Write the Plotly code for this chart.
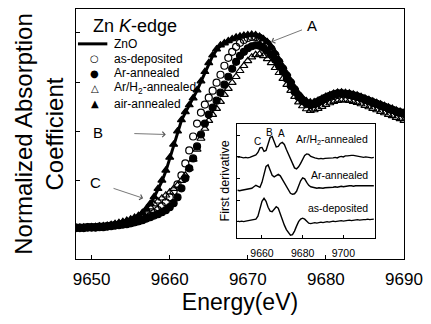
import numpy as np
import plotly.graph_objects as go

# ---------------- main panel data (Zn K-edge XANES) ----------------
energy = [9648 + 0.5 * i for i in range(85)]  # 9648 ... 9690 eV

zno = [0.010,0.010,0.010,0.010,0.013,0.013,0.015,0.015,0.018,0.023,
       0.028,0.033,0.038,0.043,0.050,0.058,0.065,0.080,0.100,0.125,
       0.160,0.200,0.240,0.290,0.355,0.420,0.490,0.545,0.585,0.620,
       0.655,0.695,0.740,0.785,0.830,0.870,0.900,0.920,0.930,0.940,
       0.950,0.958,0.963,0.965,0.970,0.973,0.970,0.963,0.950,0.935,
       0.910,0.880,0.845,0.810,0.775,0.740,0.705,0.675,0.653,0.638,
       0.633,0.635,0.645,0.655,0.665,0.673,0.680,0.685,0.685,0.683,
       0.680,0.675,0.670,0.663,0.655,0.648,0.640,0.633,0.625,0.618,
       0.610,0.603,0.595,0.590,0.585]

as_deposited = [0.008,0.008,0.008,0.010,0.010,0.010,0.013,0.013,0.015,0.018,
                0.020,0.023,0.025,0.028,0.030,0.035,0.040,0.048,0.055,0.065,
                0.080,0.095,0.115,0.135,0.160,0.190,0.225,0.270,0.330,0.395,
                0.465,0.530,0.585,0.625,0.660,0.695,0.735,0.775,0.820,0.860,
                0.890,0.915,0.935,0.950,0.960,0.965,0.965,0.960,0.945,0.930,
                0.905,0.875,0.840,0.805,0.770,0.735,0.700,0.670,0.648,0.633,
                0.628,0.630,0.640,0.650,0.660,0.668,0.675,0.680,0.680,0.678,
                0.675,0.670,0.665,0.658,0.650,0.643,0.635,0.628,0.620,0.613,
                0.605,0.598,0.590,0.585,0.580]

ar_annealed = [0.005,0.005,0.005,0.008,0.008,0.008,0.010,0.010,0.013,0.015,
               0.018,0.020,0.023,0.025,0.030,0.035,0.040,0.045,0.053,0.060,
               0.068,0.075,0.085,0.095,0.110,0.130,0.160,0.205,0.255,0.305,
               0.355,0.415,0.475,0.530,0.575,0.610,0.645,0.685,0.725,0.765,
               0.805,0.840,0.870,0.890,0.908,0.918,0.923,0.920,0.910,0.895,
               0.875,0.850,0.820,0.790,0.755,0.720,0.690,0.663,0.643,0.630,
               0.625,0.628,0.638,0.648,0.658,0.668,0.675,0.680,0.681,0.679,
               0.676,0.672,0.666,0.659,0.652,0.644,0.637,0.629,0.621,0.614,
               0.606,0.599,0.591,0.586,0.581]

arh2_annealed = [0.003,0.003,0.005,0.005,0.005,0.008,0.008,0.010,0.013,0.015,
                 0.020,0.025,0.030,0.038,0.045,0.055,0.065,0.080,0.095,0.110,
                 0.125,0.140,0.155,0.170,0.185,0.203,0.220,0.243,0.270,0.305,
                 0.350,0.400,0.455,0.505,0.545,0.575,0.605,0.640,0.675,0.705,
                 0.735,0.765,0.795,0.820,0.845,0.863,0.875,0.878,0.870,0.855,
                 0.835,0.810,0.785,0.755,0.725,0.695,0.665,0.638,0.618,0.603,
                 0.595,0.598,0.605,0.615,0.625,0.633,0.640,0.645,0.648,0.648,
                 0.645,0.640,0.635,0.628,0.620,0.613,0.605,0.598,0.590,0.583,
                 0.575,0.568,0.560,0.553,0.545]

air_annealed = [0.008,0.008,0.009,0.010,0.011,0.012,0.014,0.016,0.018,0.022,
                0.027,0.032,0.037,0.043,0.050,0.058,0.067,0.082,0.102,0.128,
                0.162,0.203,0.245,0.295,0.360,0.425,0.492,0.548,0.588,0.623,
                0.658,0.698,0.743,0.790,0.835,0.873,0.903,0.923,0.934,0.945,
                0.955,0.963,0.968,0.972,0.975,0.977,0.975,0.967,0.955,0.940,
                0.915,0.885,0.850,0.815,0.780,0.745,0.710,0.680,0.658,0.643,
                0.637,0.638,0.646,0.656,0.666,0.674,0.681,0.686,0.687,0.685,
                0.682,0.677,0.672,0.665,0.657,0.650,0.642,0.635,0.627,0.620,
                0.612,0.605,0.597,0.591,0.586]

main_xticks = [9650, 9660, 9670, 9680, 9690]

# ---------------- inset data (first derivative, offset) ----------------
energy_inset = list(range(9648, 9716))  # 68 points

deriv_arh2 = [8.1,8.15,8.1,8.05,8.1,8.05,8.1,8.2,8.25,8.35,
              8.6,9.05,9.1,8.7,8.8,9.5,10.1,10.2,9.7,9.15,
              9.2,9.5,9.6,9.4,8.9,8.4,7.9,7.4,7.05,6.95,
              7.15,7.5,7.9,8.3,8.45,8.4,8.2,8.1,8.05,8.0,
              7.95,8.0,7.95,8.0,8.0,8.05,8.0,8.05,8.1,8.05,
              8.15,8.2,8.15,8.25,8.25,8.3,8.3,8.3,8.25,8.2,
              8.2,8.15,8.1,8.15,8.1,8.1,8.05,8.1]

deriv_ar = [4.8,4.75,4.8,4.85,4.9,4.9,4.95,5.0,5.15,5.3,
            5.2,5.1,5.6,6.5,7.2,7.35,6.8,6.3,6.15,6.3,
            6.4,6.25,5.9,5.5,5.1,4.75,4.5,4.4,4.45,4.7,
            5.2,5.75,6.05,5.95,5.6,5.3,5.15,5.1,5.05,5.0,
            5.05,5.0,5.0,5.05,5.05,5.1,5.05,5.1,5.15,5.1,
            5.15,5.2,5.15,5.2,5.2,5.25,5.25,5.2,5.25,5.25,
            5.3,5.25,5.3,5.3,5.25,5.3,5.3,5.25]

deriv_asdep = [1.7,1.65,1.7,1.65,1.7,1.75,1.75,1.8,1.85,1.9,
               2.2,2.9,3.7,4.0,3.7,3.1,2.7,2.65,2.95,3.15,
               3.0,2.4,1.8,1.3,0.85,0.5,0.3,0.35,0.7,1.2,
               1.65,1.9,2.0,1.9,1.65,1.5,1.45,1.5,1.55,1.5,
               1.55,1.6,1.55,1.6,1.65,1.6,1.65,1.7,1.65,1.7,
               1.7,1.75,1.7,1.75,1.75,1.8,1.75,1.8,1.8,1.85,
               1.8,1.85,1.85,1.85,1.9,1.85,1.9,1.9]

inset_xticks = [9660, 9680, 9700]

FONT = "Liberation Sans, Arial, sans-serif"

fig = go.Figure()

mk = dict(size=7, color="black", line=dict(color="black", width=1.2))
fig.add_trace(go.Scatter(x=energy, y=arh2_annealed, mode="markers", name="Ar/H2-annealed",
                         marker=dict(symbol="triangle-up-open", **mk)))
fig.add_trace(go.Scatter(x=energy, y=as_deposited, mode="markers", name="as-deposited",
                         marker=dict(symbol="circle-open", **mk)))
fig.add_trace(go.Scatter(x=energy, y=ar_annealed, mode="markers", name="Ar-annealed",
                         marker=dict(symbol="circle", **mk)))
fig.add_trace(go.Scatter(x=energy, y=air_annealed, mode="markers", name="air-annealed",
                         marker=dict(symbol="triangle-up", **mk)))
fig.add_trace(go.Scatter(x=energy, y=zno, mode="lines", name="ZnO",
                         line=dict(color="black", width=3)))

for ys in (deriv_arh2, deriv_ar, deriv_asdep):
    fig.add_trace(go.Scatter(x=energy_inset, y=ys, mode="lines", xaxis="x2", yaxis="y2",
                             line=dict(color="black", width=1.4), showlegend=False))

# geometry helpers (plot area: x 76..411, y 8..259 px)
def px(xp):
    return (xp - 76) / 335.0

def py(yp):
    return (259 - yp) / 251.0

annotations = []
annotations.append(dict(text="Zn <i>K</i>-edge", x=px(91), y=py(25), xref="paper", yref="paper",
                        showarrow=False, xanchor="left", yanchor="middle",
                        font=dict(size=18, color="black", family=FONT)))

# custom legend
legend_rows = [("ZnO", None, 43), ("as-deposited", "○", 58), ("Ar-annealed", "●", 72.5),
               ("Ar/H<sub>2</sub>-annealed", "△", 87.5), ("air-annealed", "▲", 103)]
shapes = []
for label, glyph, yy in legend_rows:
    annotations.append(dict(text=label, x=px(113), y=py(yy), xref="paper", yref="paper",
                            showarrow=False, xanchor="left", yanchor="middle",
                            font=dict(size=12, color="black", family=FONT)))
    if glyph is None:
        shapes.append(dict(type="line", xref="paper", yref="paper", x0=px(78), x1=px(108),
                           y0=py(yy), y1=py(yy), line=dict(color="black", width=3)))
    else:
        annotations.append(dict(text=glyph, x=px(95), y=py(yy), xref="paper", yref="paper",
                                showarrow=False, xanchor="center", yanchor="middle",
                                font=dict(size=10, color="black", family="DejaVu Sans")))

# arrows: letter is the annotation text at the tail, arrow points to the feature
arrow_style = dict(showarrow=True, arrowhead=4, arrowsize=1.3, arrowwidth=0.8,
                   arrowcolor="#555", xref="x", yref="y", axref="pixel", ayref="pixel",
                   font=dict(size=15, color="black", family=FONT))
annotations.append(dict(text="A", x=9673.0, y=0.94, ax=41, ay=-16, startstandoff=4, **arrow_style))
annotations.append(dict(text="B", x=9659.5, y=0.475, ax=-68, ay=-2, startstandoff=30, **arrow_style))
annotations.append(dict(text="C", x=9656.6, y=0.155, ax=-48, ay=-16, startstandoff=12, **arrow_style))

# inset texts
for txt, yy in (("Ar/H<sub>2</sub>-annealed", 9.8), ("Ar-annealed", 6.3), ("as-deposited", 3.0)):
    annotations.append(dict(text=txt, x=9713, y=yy, xref="x2", yref="y2", showarrow=False,
                            xanchor="right", yanchor="middle",
                            font=dict(size=10.5, color="black", family=FONT)))
for letter, xx, yy in (("C", 9657.6, 9.7), ("B", 9663.8, 10.6), ("A", 9669.6, 10.5)):
    annotations.append(dict(text=letter, x=xx, y=yy, xref="x2", yref="y2", showarrow=False,
                            xanchor="center", yanchor="middle",
                            font=dict(size=10, color="black", family=FONT)))

fig.update_layout(
    width=431, height=324,
    margin=dict(l=76, r=20, t=8, b=65),
    paper_bgcolor="white", plot_bgcolor="white",
    showlegend=False,
    font=dict(family=FONT, color="black"),
    xaxis=dict(range=[9648, 9690], tickvals=main_xticks, ticks="inside", ticklen=4,
               tickcolor="black", showline=True, linecolor="black", linewidth=1, mirror=True,
               showgrid=False, zeroline=False, ticklabelstandoff=5,
               tickfont=dict(size=17, color="black"),
               title=dict(text="Energy(eV)", font=dict(size=23, color="black"), standoff=5)),
    yaxis=dict(range=[-0.15, 1.105], tickvals=[0, 0.245, 0.49, 0.735, 0.985], ticks="inside",
               ticklen=4, tickcolor="black", showticklabels=False, showline=True,
               linecolor="black", linewidth=1, mirror=True, showgrid=False, zeroline=False,
               title=dict(text="Normalized Absorption<br>Coefficient",
                          font=dict(size=24, color="black"), standoff=4)),
    xaxis2=dict(domain=[px(240), px(381)], anchor="y2", range=[9647.5, 9715.4],
                tickvals=inset_xticks, ticks="inside", ticklen=3, tickcolor="black",
                showline=True, linecolor="black", linewidth=1, mirror=True, showgrid=False,
                zeroline=False, ticklabelstandoff=5, tickfont=dict(size=10.5, color="black")),
    yaxis2=dict(domain=[py(238), py(123)], anchor="x2", range=[0, 11.5],
                tickvals=[1.65, 3.8, 6.0, 8.15, 10.3], ticks="inside", ticklen=3,
                tickcolor="black", showticklabels=False, showline=True, linecolor="black",
                linewidth=1, mirror=True, showgrid=False, zeroline=False,
                title=dict(text="First derivative", font=dict(size=12.5, color="black"),
                           standoff=3)),
    annotations=annotations,
    shapes=shapes,
)

fig.write_html("out.html")
